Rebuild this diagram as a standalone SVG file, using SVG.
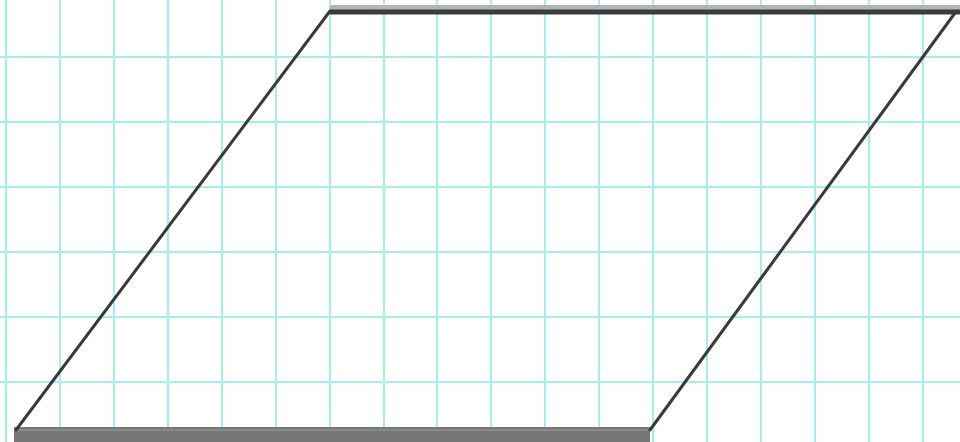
<svg xmlns="http://www.w3.org/2000/svg" width="960" height="442" viewBox="0 0 960 442">
<defs>
<style>
.g{stroke:#a6eeee;stroke-width:2;fill:none}
.d{stroke:#3a3a3a;stroke-width:3;fill:none;stroke-linecap:round}
</style>
</defs>
<rect width="960" height="442" fill="#ffffff"/>
<g id="grid">
<path class="g" d="M6 0V442M60 0V442M114 0V442M168 0V442M222 0V442M276 0V442M330 0V442M384 0V442M437 0V442M491 0V442M545 0V442M599 0V442M653 0V442M707 0V442M761 0V442M815 0V442M869 0V442M923 0V442M0 57H960M0 122H960M0 187H960M0 252H960M0 317H960M0 382H960"/>
</g>
<g id="parallelogram">
<line x1="330" y1="8" x2="960" y2="8" stroke="#b4b4b4" stroke-width="6"/>
<line x1="330" y1="12" x2="960" y2="12" stroke="#3c3c3c" stroke-width="5"/>
<rect x="14" y="427" width="636" height="15" fill="#777777"/>
<line x1="14" y1="430" x2="650" y2="430" stroke="#8a8a8a" stroke-width="2"/>
<line class="d" x1="16" y1="430" x2="330" y2="11"/>
<line class="d" x1="650" y1="430" x2="955" y2="13"/>
</g>
</svg>
